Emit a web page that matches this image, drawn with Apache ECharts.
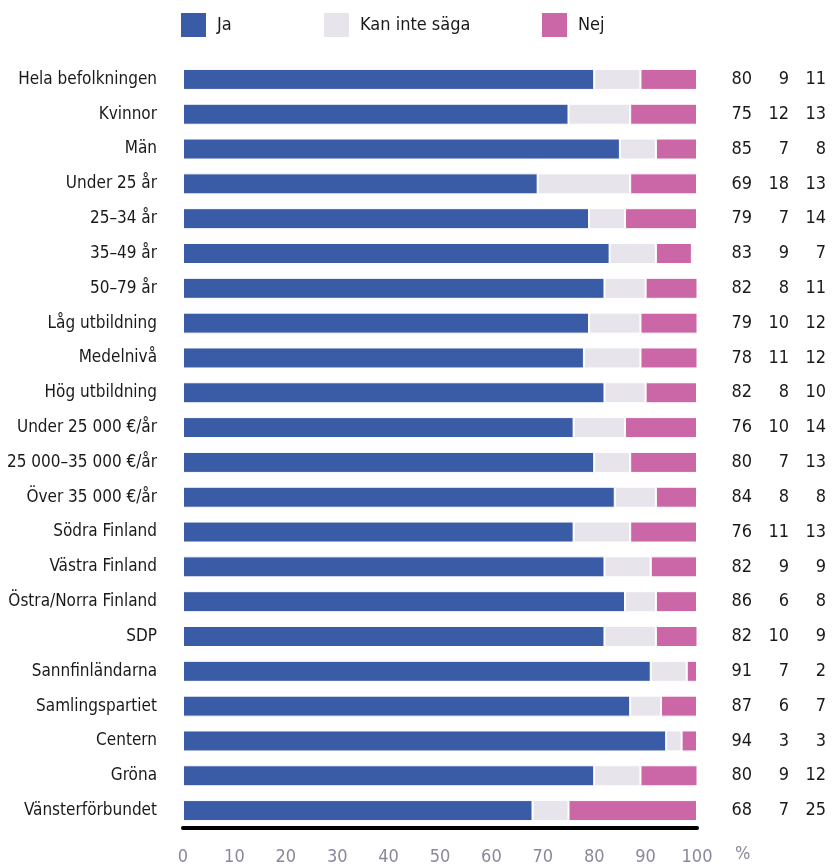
<!DOCTYPE html>
<html>
<head>
<meta charset="utf-8">
<script src="https://cdn.jsdelivr.net/npm/echarts@6/dist/echarts.min.js"></script>
<style>
    html, body { margin: 0; padding: 0; background: #fff; }
    #chart { width: 833px; height: 866px; }
</style>
</head>
<body>
<div id="chart"></div>
<script>
// kategorier uppifrån och ner
const categories = ['Hela befolkningen', 'Kvinnor', 'Män', 'Under 25 år', '25–34 år', '35–49 år', '50–79 år',
    'Låg utbildning', 'Medelnivå', 'Hög utbildning', 'Under 25 000 €/år', '25 000–35 000 €/år', 'Över 35 000 €/år',
    'Södra Finland', 'Västra Finland', 'Östra/Norra Finland', 'SDP', 'Sannfinländarna', 'Samlingspartiet',
    'Centern', 'Gröna', 'Vänsterförbundet']
const jaValues = [80, 75, 85, 69, 79, 83, 82, 79, 78, 82, 76, 80, 84, 76, 82, 86, 82, 91, 87, 94, 80, 68]
const kanInteValues = [9, 12, 7, 18, 7, 9, 8, 10, 11, 8, 10, 7, 8, 11, 9, 6, 10, 7, 6, 3, 9, 7]
const nejValues = [11, 13, 8, 13, 14, 7, 11, 12, 12, 10, 14, 13, 8, 13, 9, 8, 9, 2, 7, 3, 12, 25]
const xTicks = [0, 10, 20, 30, 40, 50, 60, 70, 80, 90, 100]

const font = '"Liberation Sans Narrow", "DejaVu Sans Condensed", sans-serif'
const colors = { ja: '#3a5ba5', kan: '#e7e4ec', nej: '#cb67a6' }

const chart = echarts.init(document.getElementById('chart'))

const legendBase = {
    top: 11,
    padding: 0,
    itemWidth: 27,
    itemHeight: 26,
    icon: 'rect',
    textStyle: { fontFamily: font, fontSize: 18, color: '#1a1a1a', padding: [0, 0, 0, 5] }
}

function barSeries(name, data, color) {
    return {
        name: name,
        type: 'bar',
        stack: 'total',
        barWidth: 21,
        data: data,
        itemStyle: { color: color, borderColor: '#fff', borderWidth: 1 },
        emphasis: { disabled: true }
    }
}

const option = {
    animation: false,
    backgroundColor: '#fff',
    textStyle: { fontFamily: font },
    legend: [
        Object.assign({ left: 179, data: ['Ja'] }, legendBase),
        Object.assign({ left: 322, data: ['Kan inte säga'] }, legendBase),
        Object.assign({ left: 540, data: ['Nej'] }, legendBase)
    ],
    grid: { left: 183, right: 136, top: 62, bottom: 38, containLabel: false, outerBoundsMode: 'none' },
    xAxis: {
        type: 'value',
        min: 0,
        max: 100,
        interval: 10,
        name: '%',
        nameLocation: 'end',
        nameGap: 38,
        nameTextStyle: { fontFamily: font, fontSize: 18, color: '#8c879b', verticalAlign: 'top', padding: [17, 0, 0, 0] },
        axisLine: { show: true, lineStyle: { color: '#000', width: 4 } },
        axisTick: { show: false },
        splitLine: { show: false },
        axisLabel: {
            margin: 20,
            fontFamily: font,
            fontSize: 18,
            color: '#8c879b',
            formatter: v => xTicks.includes(v) ? String(v) : ''
        }
    },
    yAxis: [
        {
            type: 'category',
            inverse: true,
            data: categories,
            axisLine: { show: false },
            axisTick: { show: false },
            axisLabel: { margin: 26, fontFamily: font, fontSize: 17, color: '#1a1a1a' }
        },
        {
            type: 'category',
            inverse: true,
            position: 'right',
            data: categories.map((c, i) => i),
            axisLine: { show: false },
            axisTick: { show: false },
            axisLabel: {
                margin: 23,
                align: 'left',
                fontFamily: font,
                fontSize: 18,
                color: '#1a1a1a',
                formatter: i => `{a|${jaValues[i]}}{b|${kanInteValues[i]}}{c|${nejValues[i]}}`,
                rich: {
                    a: { width: 32, align: 'right', fontFamily: font, fontSize: 18, color: '#1a1a1a' },
                    b: { width: 37, align: 'right', fontFamily: font, fontSize: 18, color: '#1a1a1a' },
                    c: { width: 37, align: 'right', fontFamily: font, fontSize: 18, color: '#1a1a1a' }
                }
            }
        }
    ],
    series: [
        barSeries('Ja', jaValues, colors.ja),
        barSeries('Kan inte säga', kanInteValues, colors.kan),
        barSeries('Nej', nejValues, colors.nej)
    ]
}

chart.setOption(option)
</script>
</body>
</html>
